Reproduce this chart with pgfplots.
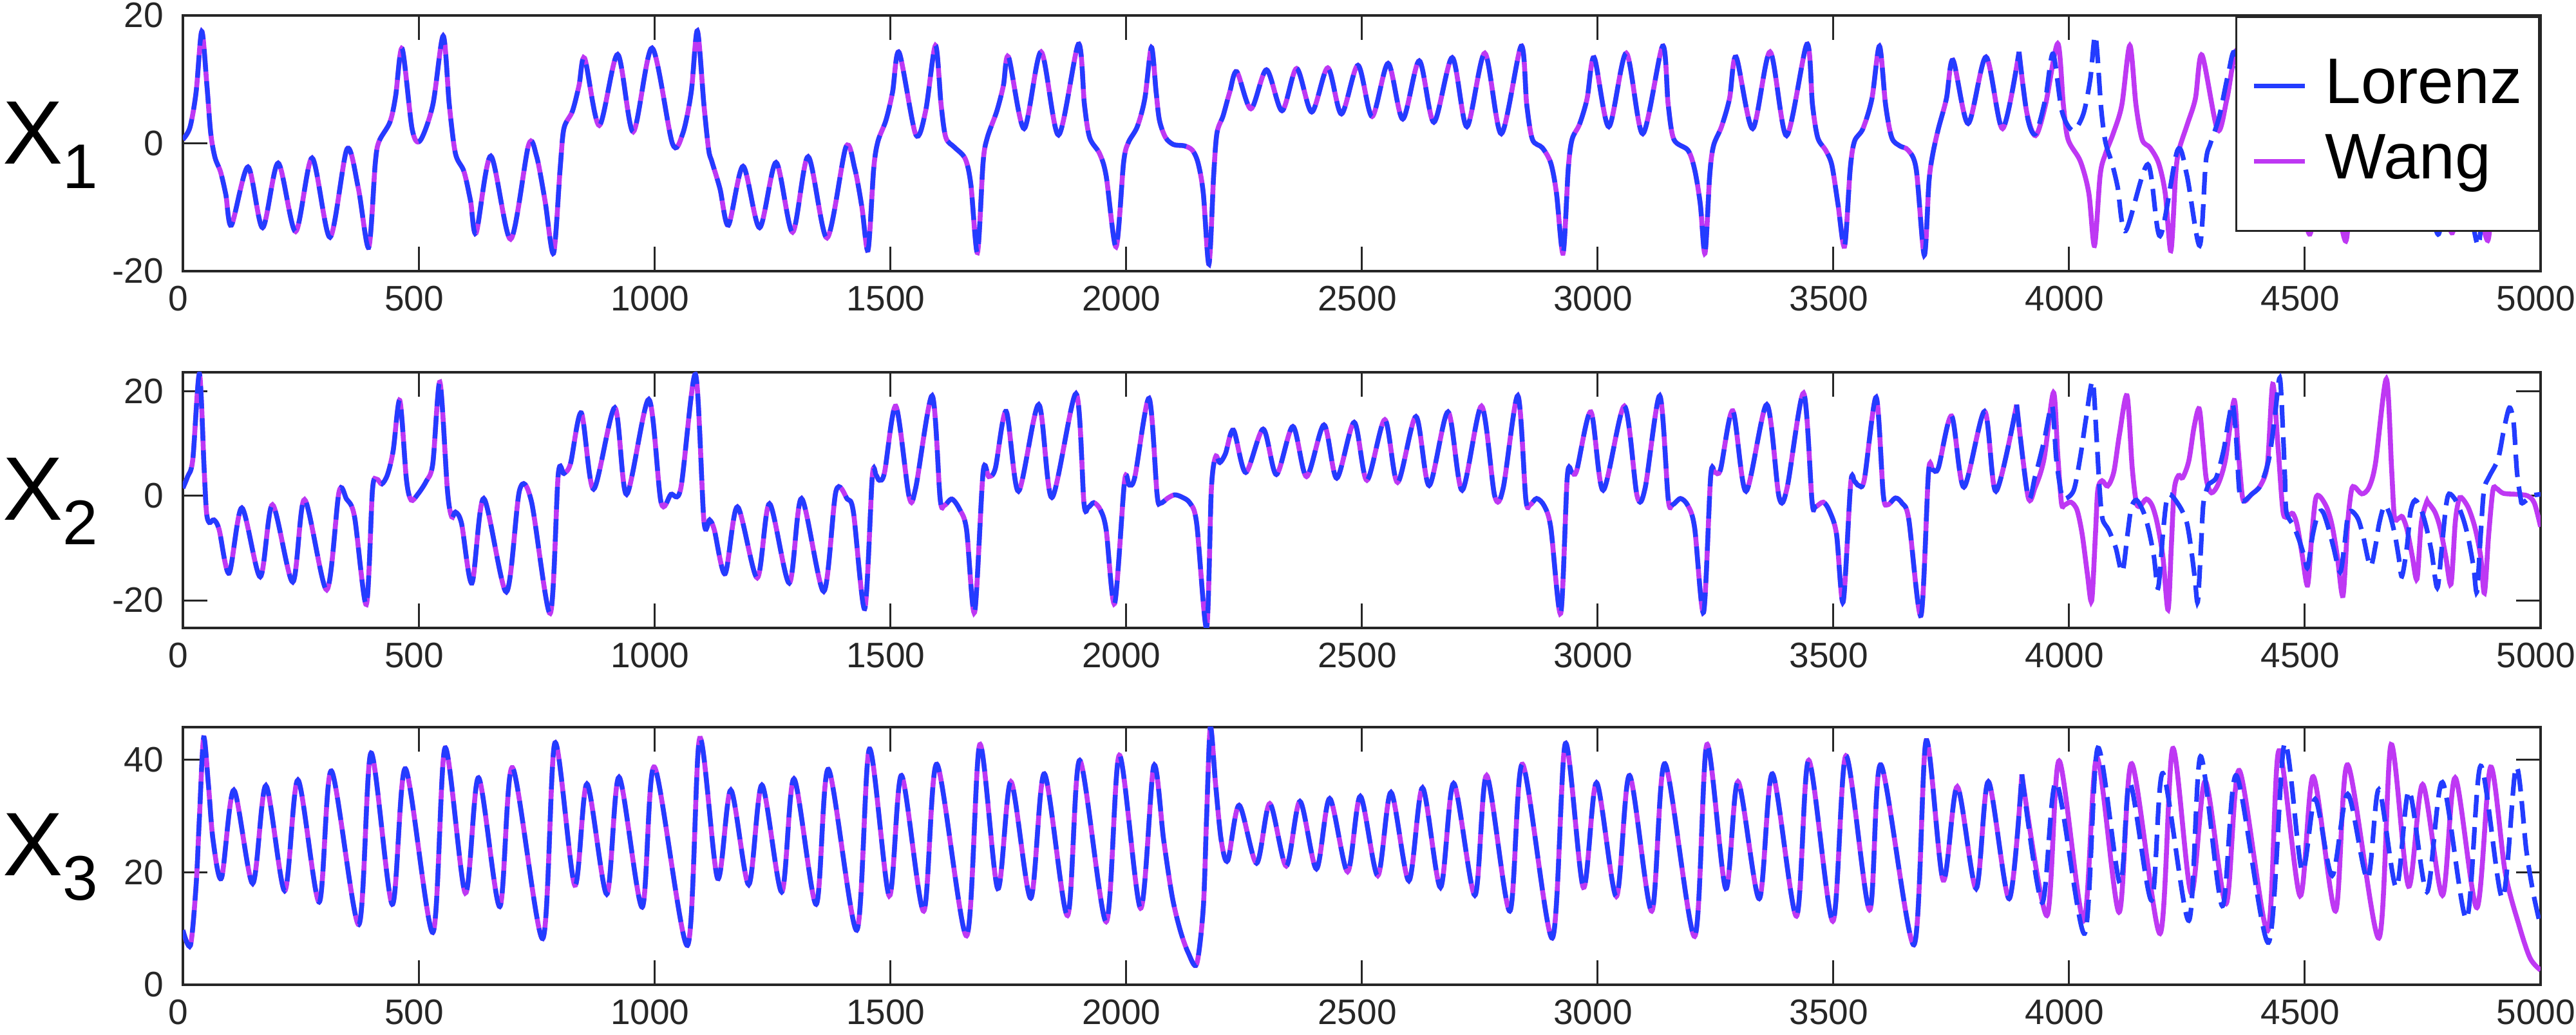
\documentclass[border=0pt]{standalone}
\usepackage{fontspec}
\setmainfont{Liberation Sans}
\usepackage{pgfplots}
\pgfplotsset{compat=1.18}
\usepackage{pgfplotstable}

\definecolor{lorenzblue}{HTML}{233CFF}
\definecolor{wangmag}{HTML}{BE38F3}
\definecolor{axgray}{HTML}{262626}

% ---------- x1 ----------
\pgfplotstableread{
t v
0 0.6
15 2.5
28 8
40 17.5
51 9
59 1.6
68 -2.2
80 -4.5
91 -8
103 -12.8
138 -3.7
169 -13.2
202 -3.1
239 -13.8
274 -2.3
312 -14.7
348 -0.9
372 -7
394 -16.3
408 -3.1
416 0.3
439 3.3
451 7.3
465 14.8
486 2.3
503 0.4
530 6
552 16.8
565 6
578 -1.6
596 -4.4
610 -9
622 -14.0
653 -2.0
695 -15.0
733 -0.3
750 -2
768 -9
786 -17.2
800 -4
808 2.3
826 5
840 9
852 13.3
883 2.8
922 13.9
955 1.8
995 14.9
1038 0
1060 1.5
1078 8
1091 17.6
1105 6
1115 -1
1122 -2.9
1139 -7.1
1157 -12.8
1188 -3.6
1223 -13.2
1258 -3.0
1293 -13.9
1326 -2.1
1366 -14.8
1406 -0.6
1425 -4
1440 -10
1453 -16.7
1465 -4
1474 0.3
1491 3.6
1505 8
1519 14.2
1554 1.4
1575 5
1596 15.3
1608 6
1618 0.9
1636 -0.6
1659 -2.4
1671 -6.4
1685 -17.1
1697 -3
1706 0.9
1726 5
1740 9
1751 13.5
1784 2.3
1820 14.3
1857 1.3
1899 15.5
1912 6
1923 0.9
1944 -1.6
1958 -5.1
1979 -16.2
1995 -3
2005 0.1
2024 2.6
2040 7
2054 15.0
2064 8
2071 3.6
2084 0.9
2101 -0.2
2124 -0.4
2141 -1.1
2153 -3.1
2164 -7.8
2176 -18.9
2186 -5
2193 1.6
2206 4.3
2220 8
2235 11.2
2265 5.4
2298 11.5
2331 5.1
2362 11.7
2394 4.9
2428 11.8
2457 4.6
2492 12.2
2522 4.2
2556 12.5
2587 3.8
2622 12.9
2653 3.3
2692 13.4
2723 2.6
2761 14.1
2796 1.5
2838 15.2
2850 6
2862 0.6
2883 -0.7
2901 -3.1
2913 -7.8
2927 -17.2
2938 -4
2946 0.6
2962 3
2978 7
2993 13.4
3024 2.6
3061 14.1
3096 1.5
3138 15.2
3150 6
3162 0.6
3192 -1.1
3206 -4.1
3218 -9.5
3228 -17.2
3238 -5
3246 -0.4
3263 2.6
3280 7
3294 13.5
3329 2.3
3366 14.3
3401 1.2
3444 15.5
3456 6
3467 0.9
3484 -1.1
3497 -3.4
3510 -9.5
3524 -16.1
3536 -4
3545 0.3
3563 2.3
3582 7
3598 15.2
3611 6
3624 0.9
3641 -0.4
3659 -1.1
3676 -4.1
3693 -17.5
3703 -6
3711 -1.7
3723 2.3
3740 7
3754 13.0
3786 3.1
3824 13.5
3859 2.3
3894 14.3
}\xoneC

\pgfplotstableread{
t v
3894 14.3
3910 5
3929 1.2
3950 6
3976 15.6
3988 6
3998 0.6
4024 -2.8
4042 -7.8
4054 -16.0
4066 -5
4077 -1.7
4094 1.6
4112 6
4129 15.3
4142 6
4155 0.6
4172 -0.7
4190 -3.1
4204 -7.8
4216 -16.8
4226 -5
4233 -1.1
4251 3
4268 7
4282 13.8
4315 2.1
4335 7
4356 14.5
4378 3
4405 5
4422 9
4437 16.5
4449 7
4460 0
4475 -2
4490 -6
4511 -14.2
4537 -2.5
4560 -6
4587 -15.3
4598 -4
4605 0
4625 1.5
4650 6
4665 10
4678 17
4690 7
4700 0
4712 -2
4725 -6
4743 -13.3
4766 -3.5
4790 -6
4813 -14
4837 -2.5
4860 -6
4888 -15.2
4900 -4
4912 0
4935 0.5
4960 0.2
4985 -0.8
5000 -2.4
}\xoneW

\pgfplotstableread{
t v
3894 14.3
3912 4
3929 1.5
3950 7
3966 14.0
3985 5
4008 2
4030 4.5
4045 10
4056 16.8
4068 5.6
4077 0.3
4091 -3.1
4103 -6.8
4120 -13.7
4167 -3.3
4193 -14.5
4230 -1.1
4250 -5
4277 -16.0
4290 -3
4300 0
4318 4
4338 11
4352 14
4374 2.5
4400 4.5
4420 8
4436 13
4452 17
4463 7
4475 -3
4490 -7
4511 -11.5
4543 -4.5
4580 -12.3
4604 -4.5
4644 -11.5
4674 -3.8
4711 -13
4739 -3
4762 -7
4784 -14.2
4811 -2
4840 -6
4868 -16
4880 -4
4890 1
4910 5
4925 10
4940 13
4955 5
4966 1.5
4985 0.5
5000 -0.4
}\xoneL

% ---------- x2 ----------
\pgfplotstableread{
t v
0 1.5
10 3.7
21 7
35 23.4
45 5.3
50 -3.1
56 -5.1
66 -4.6
77 -6.5
98 -14.8
125 -2.3
164 -15.5
190 -1.7
233 -16.5
258 -0.7
305 -18.0
331 0.7
347 -0.6
364 -4
389 -20.8
402 1.1
411 3.2
422 2.3
434 4.1
446 8.7
460 18.3
474 3.2
484 -0.8
498 0.3
516 2.8
530 6.2
545 21.8
561 1.1
570 -4
578 -3.1
591 -5.3
613 -16.7
638 -0.5
686 -18.4
714 1.1
739 -1
779 -22.5
796 4.1
808 4.3
822 6.2
845 15.9
871 1.3
916 16.9
941 0.3
988 18.5
1014 -1.2
1035 0.3
1056 1.5
1087 23.3
1105 -4.8
1117 -4.6
1127 -6.5
1150 -14.9
1176 -2.1
1218 -15.7
1244 -1.5
1286 -16.7
1312 -0.5
1359 -18.3
1385 0.9
1409 -0.6
1422 -3.1
1446 -21.6
1462 3.7
1470 4.0
1477 3.0
1488 4.5
1512 17.2
1540 -0.1
1554 1.5
1589 19.2
1606 -0.6
1615 -1.8
1631 -0.6
1648 -2.7
1662 -6.5
1679 -22.3
1697 4.5
1709 3.7
1723 5.3
1746 16.2
1772 0.9
1815 17.5
1843 -0.3
1894 19.6
1911 -1.4
1920 -2.2
1932 -1.3
1946 -2.7
1958 -6.5
1976 -20.6
1997 2.8
2007 2.1
2019 3.7
2049 18.7
2066 0.3
2073 -1.4
2089 -0.4
2103 0.2
2118 -0.2
2136 -1.4
2150 -5.3
2171 -25.3
2181 1.1
2190 7.5
2199 6.4
2211 8.1
2228 12.6
2254 4.5
2291 12.8
2319 4.1
2354 13.3
2383 3.7
2420 13.6
2447 3.4
2484 14.1
2511 3.0
2549 14.6
2576 2.6
2615 15.2
2643 2.0
2683 16.1
2713 1.1
2754 17.2
2782 0.0
2800 1.5
2831 19.2
2848 -0.6
2857 -1.7
2871 -0.5
2887 -1.9
2901 -6.1
2922 -22.5
2936 3.7
2946 4.5
2956 4.9
2986 16.1
3012 1.1
3057 17.2
3084 0.0
3101 1.5
3132 19.2
3150 -0.6
3159 -1.7
3176 -0.5
3192 -1.9
3206 -6.1
3225 -22.3
3240 3.7
3249 4.5
3261 5.1
3287 16.3
3315 0.9
3359 17.5
3385 -0.2
3402 1.5
3437 19.7
3455 -1.0
3462 -2.1
3479 -1.2
3493 -3.1
3507 -7.4
3521 -20.3
3537 2.4
3545 2.8
3554 2.0
3566 3.2
3591 18.9
3606 0.3
3615 -1.7
3632 -0.4
3646 -1.4
3660 -4.4
3686 -22.9
3702 4.5
3711 5.0
3723 5.4
3751 15.3
3777 1.7
3821 16.2
3845 0.9
3889 17.5
}\xtwoC

\pgfplotstableread{
t v
3889 17.5
3913 -0.1
3928 1.6
3947 7.1
3967 19.8
3976 8
3984 -1.4
3991 -1.7
4004 -1.2
4017 -2.7
4028 -7.4
4039 -15
4048 -20.1
4056 -7.4
4061 1.1
4070 2.9
4082 1.9
4095 4.6
4107 11.8
4123 19.2
4134 5.4
4143 -1.4
4152 -1.8
4164 -0.6
4176 -1.8
4187 -5.2
4199 -11.6
4210 -21.8
4217 -9.5
4223 1.1
4232 3.9
4241 3.5
4254 6.7
4265 13.1
4276 16.7
4284 10
4291 3.3
4302 0.6
4317 2.4
4332 7.1
4350 18.3
4358 9.7
4367 0.3
4373 -1.0
4387 0.3
4406 2.0
4421 6.3
4432 21.4
4443 9.7
4454 -3.1
4465 -3.7
4475 -3.4
4484 -5.7
4495 -11.6
4506 -17.1
4515 -7.4
4523 -0.6
4532 -0.1
4547 -2.3
4558 -5.7
4569 -11.6
4581 -19.1
4591 -5.2
4599 1.1
4606 1.7
4621 0.4
4636 1.6
4650 6.3
4673 22.4
4684 5.4
4690 -4.0
4699 -4.3
4707 -4.0
4717 -6.5
4728 -11.6
4738 -15.9
4747 -5.2
4758 -1.3
4761 -1.2
4776 -3.1
4787 -6.1
4799 -11.6
4810 -16.9
4819 -5.2
4826 -1.0
4832 -0.3
4847 -2.3
4861 -6.1
4873 -11.6
4881 -18.6
4890 -7.4
4899 1.1
4907 1.4
4921 0.5
4950 0.3
4973 0
4987 -1.4
5000 -5.9
}\xtwoW

\pgfplotstableread{
t v
3889 17.5
3913 -0.1
3928 3.7
3947 10.5
3964 17.3
3973 7.1
3984 0.3
3991 -0.6
4010 1.1
4024 7.5
4036 14.8
4050 22.0
4058 11.8
4065 1.1
4071 -4.4
4084 -6.5
4099 -9.9
4113 -14.6
4124 -7.4
4132 -2.3
4143 -0.8
4158 -3.1
4169 -6.5
4180 -11.6
4189 -17.6
4199 -7.4
4206 -1.4
4213 0.3
4224 -0.6
4239 -2.7
4250 -5.2
4258 -9.5
4267 -15.9
4273 -20.3
4280 -9.5
4285 -1.4
4295 2.0
4302 2.6
4313 3.7
4328 8.8
4339 14.8
4347 17.7
4354 11.8
4361 1.1
4369 -1.0
4387 0.3
4406 2.0
4424 7.1
4436 14.8
4447 22.6
4454 11.8
4458 3.3
4461 -3.1
4476 -5.7
4487 -8.2
4499 -11.6
4506 -13.7
4517 -7.4
4528 -3.5
4538 -3.0
4550 -6.1
4561 -9.9
4575 -14.6
4584 -9.5
4591 -4.0
4599 -2.9
4613 -4.4
4624 -7.8
4639 -13.5
4650 -9.5
4658 -5.2
4669 -1.8
4680 -3.5
4691 -7.4
4699 -11.6
4706 -15.4
4717 -9.5
4724 -3.1
4734 -0.8
4747 -2.7
4758 -6.1
4769 -10.8
4781 -17.6
4791 -9.5
4799 -2.3
4806 0.4
4821 -1.0
4836 -4.4
4847 -8.2
4858 -13.7
4865 -18.4
4873 -7.4
4880 1.1
4891 3.7
4910 7.1
4922 12.6
4934 16.9
4943 13.9
4950 4.6
4958 -0.6
4961 -1.4
4973 -0.6
4984 0.1
5000 0.3
}\xtwoL

% ---------- x3 ----------
\pgfplotstableread{
t v
0 9.7
16 7.0
28 17.7
35 29.7
44 43.9
54 35.7
64 25.7
82 19.0
108 34.6
148 18.0
176 35.4
216 16.7
244 36.4
289 14.7
315 38.0
373 10.7
399 41.2
444 14.3
472 38.4
530 9.3
556 42.1
599 16.3
627 36.8
672 13.9
699 38.6
763 8.2
789 43.0
831 17.7
857 35.7
899 16.1
925 36.9
974 13.8
1000 38.7
1070 7.0
1096 43.8
1134 18.9
1162 34.6
1200 17.8
1228 35.5
1270 16.5
1296 36.6
1343 14.3
1369 38.3
1429 9.7
1456 41.9
1498 15.8
1524 37.2
1571 13.1
1599 39.2
1662 8.7
1690 42.7
1728 17.1
1756 36.1
1798 15.4
1827 37.5
1876 12.3
1902 39.9
1958 11.2
1986 40.8
2031 13.6
2059 38.9
2080 25.7
2098 15.7
2115 9.7
2132 5.7
2150 3.7
2164 13.7
2171 29.7
2179 45.8
2190 35.7
2202 25.7
2216 22.1
2240 31.9
2277 21.6
2305 32.2
2340 21.1
2369 32.6
2404 20.6
2432 33.1
2470 20.1
2497 33.5
2534 19.4
2562 34.2
2600 18.5
2629 35.0
2667 17.3
2695 35.8
2740 15.9
2765 37.2
2814 13.1
2841 39.2
2904 8.3
2932 42.9
2970 17.3
2998 35.9
3040 15.7
3068 37.2
3115 13.1
3143 39.3
3206 8.6
3232 42.7
3272 17.1
3298 36.1
3343 15.3
3371 37.5
3422 12.2
3448 39.9
3499 11.3
3527 40.7
3577 13.3
3601 39.1
3671 7.1
3697 43.4
3733 18.6
3763 35.2
3803 17.1
3829 36.1
3873 15.3
3900 37.4
}\xthreeC

\pgfplotstableread{
t v
3900 37.4
3953 12.3
3979 39.8
4031 11.4
4059 40.4
4106 12.9
4133 39.3
4193 9.1
4220 42.0
4259 16.3
4289 36.2
4333 14.4
4361 38.1
4421 9.6
4445 41.6
4490 15.8
4518 37.0
4565 13.1
4591 39.1
4657 8.3
4683 42.7
4720 17.5
4750 35.6
4792 15.9
4819 36.8
4865 13.7
4894 38.7
4925 20
4955 10.4
4978 4.7
5000 2.6
}\xthreeW

\pgfplotstableread{
t v
3900 37.4
3943 14.6
3973 36.0
4033 9.1
4061 42.1
4108 18
4129 36
4175 15
4199 37.6
4254 11.4
4279 40.6
4325 14
4355 37.2
4423 7.5
4457 42.9
4494 20.3
4522 33
4558 19.4
4591 33.9
4633 18.8
4657 34.7
4694 17.3
4721 34.5
4759 16.5
4792 36.0
4843 11.7
4873 38.9
4919 15.4
4948 38.7
4970 23.8
4985 16.1
5000 10.4
}\xthreeL

\pgfplotsset{
  panel/.style={
    scale only axis, width=366.1pt, height=39.7pt,
    anchor=south west,
    xmin=0, xmax=5000,
    xtick={0,500,...,5000},
    xticklabels={0,500,1000,1500,2000,2500,3000,3500,4000,4500,5000},
    tick align=inside,
    major tick length=3.8pt,
    axis line style={axgray, line width=0.35pt},
    tick style={axgray, line width=0.3pt},
    every tick label/.append style={font=\fontsize{5.5}{6}\selectfont, text=axgray},
    /pgf/number format/assume math mode=true,
    scaled ticks=false,
    xticklabel style={yshift=1.2pt, xshift=-0.7pt},
    yticklabel style={xshift=0.5pt},
  },
  wang/.style={wangmag, line width=0.76pt, smooth, tension=0.5, no markers},
  lorenz/.style={lorenzblue, line width=0.72pt, smooth, tension=0.5,
    dash pattern=on 3.5pt off 1.5pt, no markers},
}

\newcommand{\panellabel}[1]{\fontsize{14}{16}\selectfont X\raisebox{-3.8pt}{\fontsize{9.8}{10}\selectfont #1}}

\begin{document}
\begin{tikzpicture}

\begin{axis}[panel, at={(28.4pt,118.6pt)},
  ymin=-20, ymax=20, ytick={-20,0,20}, yticklabels={-20,0,20},
  legend image code/.code={\draw (1.2pt,0pt) -- (9.1pt,0pt);},
  legend cell align=left,
  legend style={at={(1,1)}, anchor=north east, draw=axgray, line width=0.35pt,
    fill=white, font=\fontsize{10}{11}\selectfont, text=black,
    inner xsep=2.4pt, inner ysep=4.6pt, row sep=-0.7pt,
    /tikz/column sep=2.5pt, nodes={inner xsep=0.3pt}},
]
\addplot[wang, forget plot] table {\xoneC};
\addplot[wang, forget plot] table {\xoneW};
\addplot[lorenz, forget plot] table {\xoneC};
\addplot[lorenz, forget plot] table {\xoneL};
\addlegendimage{lorenzblue, line width=0.7pt}
\addlegendentry{Lorenz}
\addlegendimage{wangmag, line width=0.7pt}
\addlegendentry{Wang}
\end{axis}

\begin{axis}[panel, at={(28.4pt,63.2pt)},
  ymin=-25.3, ymax=23.7, ytick={-20,0,20}, yticklabels={-20,0,20}]
\addplot[wang] table {\xtwoC};
\addplot[wang] table {\xtwoW};
\addplot[lorenz] table {\xtwoC};
\addplot[lorenz] table {\xtwoL};
\end{axis}

\begin{axis}[panel, at={(28.4pt,7.8pt)}, height=40pt,
  ymin=0, ymax=45.8, ytick={0,20,40}, yticklabels={0,20,40}]
\addplot[wang] table {\xthreeC};
\addplot[wang] table {\xthreeW};
\addplot[lorenz] table {\xthreeC};
\addplot[lorenz] table {\xthreeL};
\end{axis}

\node[anchor=base east, inner sep=0pt, text=black] at (15.4pt,135.2pt) {\panellabel{1}};
\node[anchor=base east, inner sep=0pt, text=black] at (15.4pt,79.9pt) {\panellabel{2}};
\node[anchor=base east, inner sep=0pt, text=black] at (15.4pt,24.7pt) {\panellabel{3}};

\pgfresetboundingbox
\path[use as bounding box] (0,0) rectangle (400pt,160.7pt);
\end{tikzpicture}
\end{document}
